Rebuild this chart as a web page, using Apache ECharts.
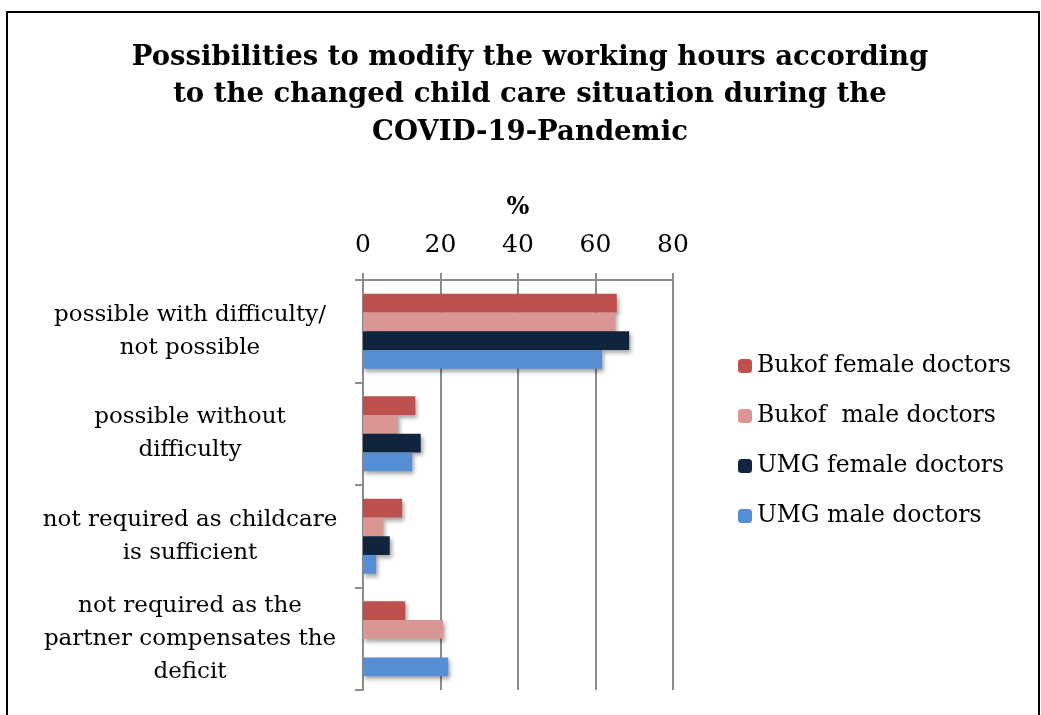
<!DOCTYPE html>
<html>
<head>
<meta charset="utf-8">
<script src="https://cdn.jsdelivr.net/npm/echarts@6/dist/echarts.min.js"></script>
<style>
  html, body { margin: 0; padding: 0; background: #fff; }
  #chart { width: 1041px; height: 715px; }
</style>
</head>
<body>
<div id="chart"></div>
<script>
// categories (top to bottom)
const categories = [
  'possible with difficulty/\nnot possible',
  'possible without\ndifficulty',
  'not required as childcare\nis sufficient',
  'not required as the\npartner compensates the\ndeficit'
]
const seriesNames = ['Bukof female doctors', 'Bukof  male doctors', 'UMG female doctors', 'UMG male doctors']
const bukofFemale = [65.5, 13.5, 10.1, 10.9]
const bukofMale = [65.1, 9.0, 5.1, 20.7]
const umgFemale = [68.7, 14.9, 6.9, null]
const umgMale = [61.7, 12.7, 3.4, 22.0]
const xTicks = [0, 20, 40, 60, 80]

const colors = ['#C0504D', '#D99694', '#10243E', '#558ED5']
const font = 'DejaVu Serif'
const values = [bukofFemale, bukofMale, umgFemale, umgMale]

const chart = echarts.init(document.getElementById('chart'))

chart.setOption({
  animation: false,
  color: colors,
  textStyle: { fontFamily: font, color: '#000' },
  title: {
    text: 'Possibilities to modify the working hours according\nto the changed child care situation during the\nCOVID-19-Pandemic',
    left: 525,
    textAlign: 'center',
    top: 34,
    textStyle: { fontFamily: font, fontSize: 27.5, fontWeight: 'bold', lineHeight: 37.5, color: '#000' }
  },
  graphic: [{
    type: 'rect',
    shape: { x: 7, y: 12, width: 1032, height: 720 },
    style: { fill: 'none', stroke: '#000', lineWidth: 2 }
  }],
  legend: {
    orient: 'vertical',
    left: 733,
    top: 349,
    itemWidth: 14,
    itemHeight: 14,
    itemGap: 26,
    data: seriesNames,
    textStyle: { fontFamily: font, fontSize: 23.5, color: '#000' }
  },
  grid: { left: 363, right: 368, top: 280, bottom: 25 },
  xAxis: {
    type: 'value',
    position: 'top',
    min: 0,
    max: 80,
    interval: 20,
    name: '%',
    nameLocation: 'middle',
    nameGap: 60,
    nameTextStyle: { fontFamily: font, fontSize: 24, fontWeight: 'bold', color: '#000' },
    axisLine: { show: true, lineStyle: { color: '#8c8c8c', width: 2 } },
    axisTick: { show: true, length: 7, lineStyle: { color: '#8c8c8c', width: 2 } },
    axisLabel: {
      fontFamily: font, fontSize: 25, color: '#000', margin: 22,
      formatter: v => xTicks.includes(v) ? String(v) : ''
    },
    splitLine: { show: true, lineStyle: { color: '#8c8c8c', width: 2 } }
  },
  yAxis: {
    type: 'category',
    inverse: true,
    data: categories,
    axisLine: { show: true, lineStyle: { color: '#8c8c8c', width: 2 } },
    axisTick: { show: true, length: 8, lineStyle: { color: '#8c8c8c', width: 2 } },
    axisLabel: {
      fontFamily: font, fontSize: 23, color: '#000', margin: 173,
      lineHeight: 33, align: 'center'
    },
    splitLine: { show: false }
  },
  series: seriesNames.map((name, i) => ({
    name,
    type: 'bar',
    data: values[i],
    barGap: '0%',
    barCategoryGap: '27%',
    itemStyle: {
      color: colors[i],
      shadowBlur: 4,
      shadowOffsetX: 2,
      shadowOffsetY: 3,
      shadowColor: 'rgba(0,0,0,0.35)'
    }
  }))
})
</script>
</body>
</html>
